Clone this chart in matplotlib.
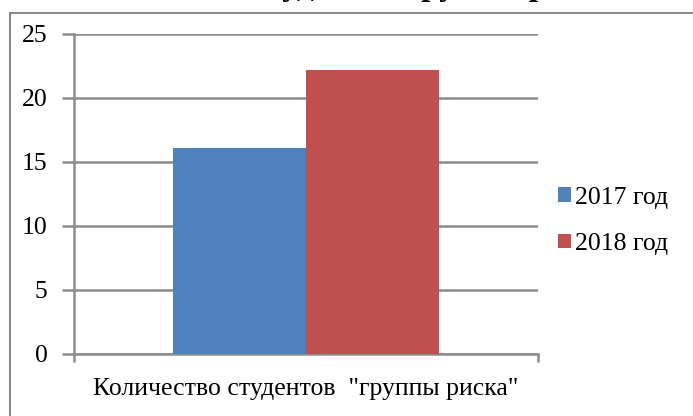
import matplotlib.pyplot as plt
from matplotlib.patches import Rectangle

plt.rcParams['font.family'] = ['Liberation Serif', 'DejaVu Serif']

category = 'Количество студентов  "группы риска"'
series = ['2017 год', '2018 год']
values = [16.1, 22.2]
colors = ['#4f81bd', '#c0504d']
title = 'Количество студентов группы риска'

fig = plt.figure(figsize=(6.93, 4.16), dpi=100)
W, H = 693, 416

# outer chart frame (cut off on the right/bottom)
fig.patches.append(Rectangle((10 / W, -0.1), 1.2, 1.1 - 13 / H,
                             transform=fig.transFigure, fill=False,
                             edgecolor='#8c8c8c', linewidth=1.5))

# title, mostly cropped above the image
fig.text(342 / W, 1 + 5 / H, title, ha='center', va='baseline',
         fontsize=24, fontweight='bold')

ax = fig.add_axes([74 / W, (416 - 353.7) / H, (538 - 74) / W, (353.7 - 33.7) / H])
w = 0.2866
for i, (s, v, c) in enumerate(zip(series, values, colors)):
    ax.bar(0.5 + (i - 0.5) * w, v, width=w, color=c, label=s, zorder=3)

ax.set_xlim(0, 1)
ax.set_ylim(0, 25)
ax.set_yticks(range(0, 26, 5))
ax.set_xticks([0, 1])
ax.set_xticklabels(['', ''])
ax.tick_params(axis='y', length=9, width=1.8, color='#8c8c8c', labelsize=18.5, pad=10)
ax.tick_params(axis='x', length=6, width=1.8, color='#8c8c8c')
ax.grid(axis='y', color='#8c8c8c', linewidth=1.8, zorder=0)
for side in ['top', 'right']:
    ax.spines[side].set_visible(False)
for side in ['left', 'bottom']:
    ax.spines[side].set_color('#8c8c8c')
    ax.spines[side].set_linewidth(1.8)
ax.set_xlabel(category, fontsize=18.5, labelpad=8)

fig.legend(loc='center left', bbox_to_anchor=(558 / W, 1 - 221 / H), frameon=False,
           fontsize=18.5, handlelength=0.5, handleheight=0.5, handletextpad=0.15,
           labelspacing=0.95, borderaxespad=0, borderpad=0)

fig.savefig('out.png', dpi=100)
